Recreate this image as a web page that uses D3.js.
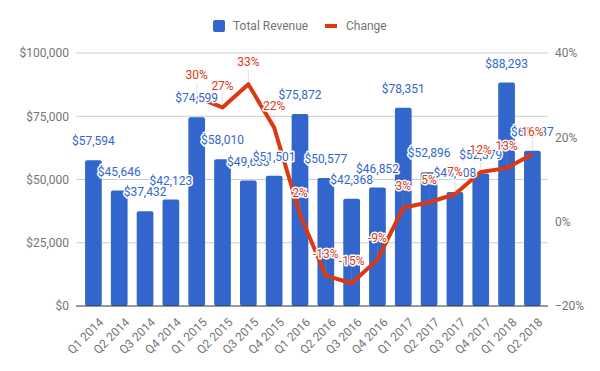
<!DOCTYPE html>
<html>
<head>
<meta charset="utf-8">
<script src="https://cdn.jsdelivr.net/npm/d3@7"></script>
<style>
  body { margin: 0; background: #fff; }
  text { font-family: Roboto, Arial, sans-serif; }
</style>
</head>
<body>
<script>
let w = 600;
let h = 371;

let quarters = ["Q1 2014", "Q2 2014", "Q3 2014", "Q4 2014", "Q1 2015", "Q2 2015", "Q3 2015", "Q4 2015",
    "Q1 2016", "Q2 2016", "Q3 2016", "Q4 2016", "Q1 2017", "Q2 2017", "Q3 2017", "Q4 2017", "Q1 2018", "Q2 2018"]
let revenue = [57594, 45646, 37432, 42123, 74599, 58010, 49633, 51501,
    75872, 50577, 42368, 46852, 78351, 52896, 45108, 52379, 88293, 61337]
// change vs same quarter a year before, starts at Q1 2015
let change = [null, null, null, null, 0.295, 0.271, 0.326, 0.223,
    0.017, -0.128, -0.146, -0.090, 0.033, 0.046, 0.065, 0.118, 0.127, 0.160]
let revTicks = [0, 25000, 50000, 75000, 100000]
let pctTicks = [-0.2, 0, 0.2, 0.4]

let blue = "#3366cc"
let red = "#dc3912"
let grey = "#757575"

let x = d3.scaleBand()
    .domain(quarters)
    .range([80.5, 545.3])
    .paddingInner(0.353)
    .paddingOuter(0.1765)

let y = d3.scaleLinear()
    .domain([0, 100000])
    .range([306, 53])

let y2 = d3.scaleLinear()
    .domain([-0.2, 0.4])
    .range([306, 53])

let left = 76, right = 548

let svg = d3.select("body")
    .append("svg")
    .attr("width", w)
    .attr("height", h)

// gridlines
svg.append("g")
    .selectAll("line")
    .data(revTicks.filter(d => d > 0))
    .enter()
    .append("line")
    .attr("x1", left)
    .attr("x2", right)
    .attr("y1", d => y(d))
    .attr("y2", d => y(d))
    .attr("stroke", "#cccccc")
    .attr("stroke-width", 1)

// left axis
let fmtMoney = d3.format("$,")
svg.append("g")
    .attr("transform", `translate(${left},0)`)
    .call(d3.axisLeft(y).tickValues(revTicks).tickFormat(fmtMoney).tickSize(0).tickPadding(7))
    .call(g => g.select(".domain").remove())
    .call(g => g.selectAll("text").attr("fill", grey).attr("font-size", "12px").attr("font-family", "Roboto"))

// right axis
svg.append("g")
    .attr("transform", `translate(${right},0)`)
    .call(d3.axisRight(y2).tickValues(pctTicks).tickFormat(d3.format(".0%")).tickSize(0).tickPadding(7))
    .call(g => g.select(".domain").remove())
    .call(g => g.selectAll("text").attr("fill", grey).attr("font-size", "12px").attr("font-family", "Roboto"))

// bars
svg.append("g")
    .selectAll("rect")
    .data(quarters)
    .enter()
    .append("rect")
    .attr("x", d => x(d))
    .attr("y", (d, i) => y(revenue[i]))
    .attr("width", x.bandwidth())
    .attr("height", (d, i) => y(0) - y(revenue[i]))
    .attr("rx", 2)
    .attr("fill", blue)

// baseline
svg.append("line")
    .attr("x1", left)
    .attr("x2", right)
    .attr("y1", y(0))
    .attr("y2", y(0))
    .attr("stroke", "#333")
    .attr("stroke-width", 1)

// x axis labels
svg.append("g")
    .selectAll("text")
    .data(quarters)
    .enter()
    .append("text")
    .text(d => d)
    .attr("transform", d => `translate(${x(d) + x.bandwidth() / 2 + 8},${y(0) + 14}) rotate(-45)`)
    .attr("text-anchor", "end")
    .attr("dy", "0.35em")
    .attr("fill", grey)
    .attr("font-size", "12px")

// change line
let pts = quarters.map((q, i) => ({q: q, v: change[i]})).filter(d => d.v !== null)
let line = d3.line()
    .x(d => x(d.q) + x.bandwidth() / 2)
    .y(d => y2(d.v))

svg.append("path")
    .datum(pts)
    .attr("d", line)
    .attr("fill", "none")
    .attr("stroke", red)
    .attr("stroke-width", 4)
    .attr("stroke-linejoin", "round")

// stems for line annotations
svg.append("g")
    .selectAll("line")
    .data(pts)
    .enter()
    .append("line")
    .attr("x1", d => x(d.q) + x.bandwidth() / 2)
    .attr("x2", d => x(d.q) + x.bandwidth() / 2)
    .attr("y1", d => y2(d.v) - 3)
    .attr("y2", d => y2(d.v) - 14)
    .attr("stroke", "#999")
    .attr("stroke-opacity", 0.3)

// bar labels
svg.append("g")
    .selectAll("text")
    .data(quarters)
    .enter()
    .append("text")
    .text((d, i) => fmtMoney(revenue[i]))
    .attr("x", d => x(d) + x.bandwidth() / 2)
    .attr("y", (d, i) => y(revenue[i]) - 19)
    .attr("dy", "0.35em")
    .attr("text-anchor", "middle")
    .attr("font-size", "12px")
    .attr("fill", blue)
    .attr("stroke", "#fff")
    .attr("stroke-width", 3)
    .attr("stroke-linejoin", "round")
    .attr("paint-order", "stroke")

// change labels
svg.append("g")
    .selectAll("text")
    .data(pts)
    .enter()
    .append("text")
    .text(d => Math.round(d.v * 100) + "%")
    .attr("x", d => x(d.q) + x.bandwidth() / 2)
    .attr("y", d => y2(d.v) - 22)
    .attr("dy", "0.35em")
    .attr("text-anchor", "middle")
    .attr("font-size", "12px")
    .attr("fill", red)
    .attr("stroke", "#fff")
    .attr("stroke-width", 3)
    .attr("stroke-linejoin", "round")
    .attr("paint-order", "stroke")

// legend
let legend = svg.append("g")
legend.append("rect")
    .attr("x", 213)
    .attr("y", 20)
    .attr("width", 12)
    .attr("height", 12)
    .attr("rx", 2)
    .attr("fill", blue)
legend.append("text")
    .text("Total Revenue")
    .attr("x", 233)
    .attr("y", 26)
    .attr("dy", "0.35em")
    .attr("font-size", "12px")
    .attr("fill", grey)
legend.append("line")
    .attr("x1", 325)
    .attr("x2", 337)
    .attr("y1", 26)
    .attr("y2", 26)
    .attr("stroke", red)
    .attr("stroke-width", 4)
legend.append("text")
    .text("Change")
    .attr("x", 346)
    .attr("y", 26)
    .attr("dy", "0.35em")
    .attr("font-size", "12px")
    .attr("fill", grey)
</script>
</body>
</html>
